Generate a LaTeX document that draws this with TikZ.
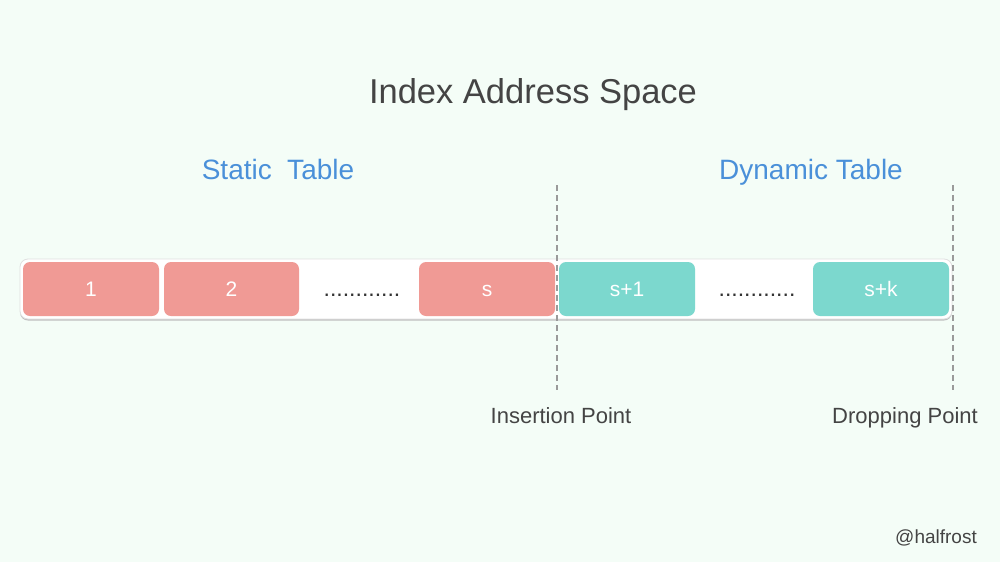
\documentclass[tikz,border=0pt]{standalone}
\usepackage{fontspec}
\setmainfont{Liberation Sans}
\definecolor{bg}{HTML}{F4FDF7}
\definecolor{pinkc}{HTML}{F09A95}
\definecolor{tealc}{HTML}{7CD8CE}
\definecolor{bluet}{HTML}{4A90D9}
\definecolor{darkt}{HTML}{444444}
\definecolor{dashc}{HTML}{9A9A9A}
\tikzset{
  cell/.style={rounded corners=7pt, minimum width=136pt, minimum height=54pt, inner sep=0pt, fill=pinkc},
  celltext/.style={anchor=base, text=white, font=\fontsize{21}{24}\selectfont, inner sep=0pt},
  pinkcell/.style={cell, fill=pinkc},
  tealcell/.style={cell, fill=tealc},
  dotsnode/.style={anchor=base, text=black!80, font=\fontsize{23}{24}\selectfont, inner sep=0pt},
  heading/.style={anchor=base, text=bluet, font=\fontsize{28}{32}\selectfont, inner sep=0pt},
  label/.style={anchor=base, text=darkt, font=\fontsize{22}{25}\selectfont, inner sep=0pt},
  guide/.style={draw=dashc, line width=1.8pt, dash pattern=on 6pt off 4pt},
}
\begin{document}
\begin{tikzpicture}[x=1pt,y=-1pt]
\fill[bg] (0,0) rectangle (1000,562);
\useasboundingbox (0,0) rectangle (1000,562);
% title
\node[anchor=base, text=darkt, font=\fontsize{34.5}{40}\selectfont, inner sep=0pt] (title) at (533,103) {Index Address Space};
\node[heading] (static) at (278,179) {Static\hspace{0.55em}Table};
\node[heading] (dynamic) at (811,179) {Dynamic Table};
% bar
\fill[black!25, rounded corners=8pt] (20,260.5) rectangle (952,320.5);
\filldraw[fill=white, draw=black!12, line width=0.8pt, rounded corners=8pt] (20,259) rectangle (952,319);
\node[pinkcell] (c1) at (91,289) {};
\node[pinkcell, minimum width=135pt] (c2) at (231.5,289) {};
\node[pinkcell] (cs) at (487,289) {};
\node[tealcell] (cs1) at (627,289) {};
\node[tealcell] (csk) at (881,289) {};
\node[celltext] (t1) at (c1.center |- 0,296) {1};
\node[celltext] (t2) at (c2.center |- 0,296) {2};
\node[celltext] (ts) at (cs.center |- 0,296) {s};
\node[celltext] (ts1) at (cs1.center |- 0,296) {s+1};
\node[celltext] (tsk) at (csk.center |- 0,296) {s+k};
\node[dotsnode] (d1) at (362,296) {............};
\node[dotsnode] (d2) at (757,296) {............};
% guides
\coordinate (i1) at (557,185);
\coordinate (i2) at (557,390);
\coordinate (p1) at (953,185);
\coordinate (p2) at (953,390);
\draw[guide] (i1) -- (i2);
\draw[guide] (p1) -- (p2);
\node[label] (ins) at (561,423) {Insertion Point};
\node[label] (drop) at (905,423) {Dropping Point};
\node[anchor=base, text=darkt, font=\fontsize{19}{23}\selectfont, inner sep=0pt] (sig) at (936,543) {@halfrost};
\end{tikzpicture}
\end{document}
